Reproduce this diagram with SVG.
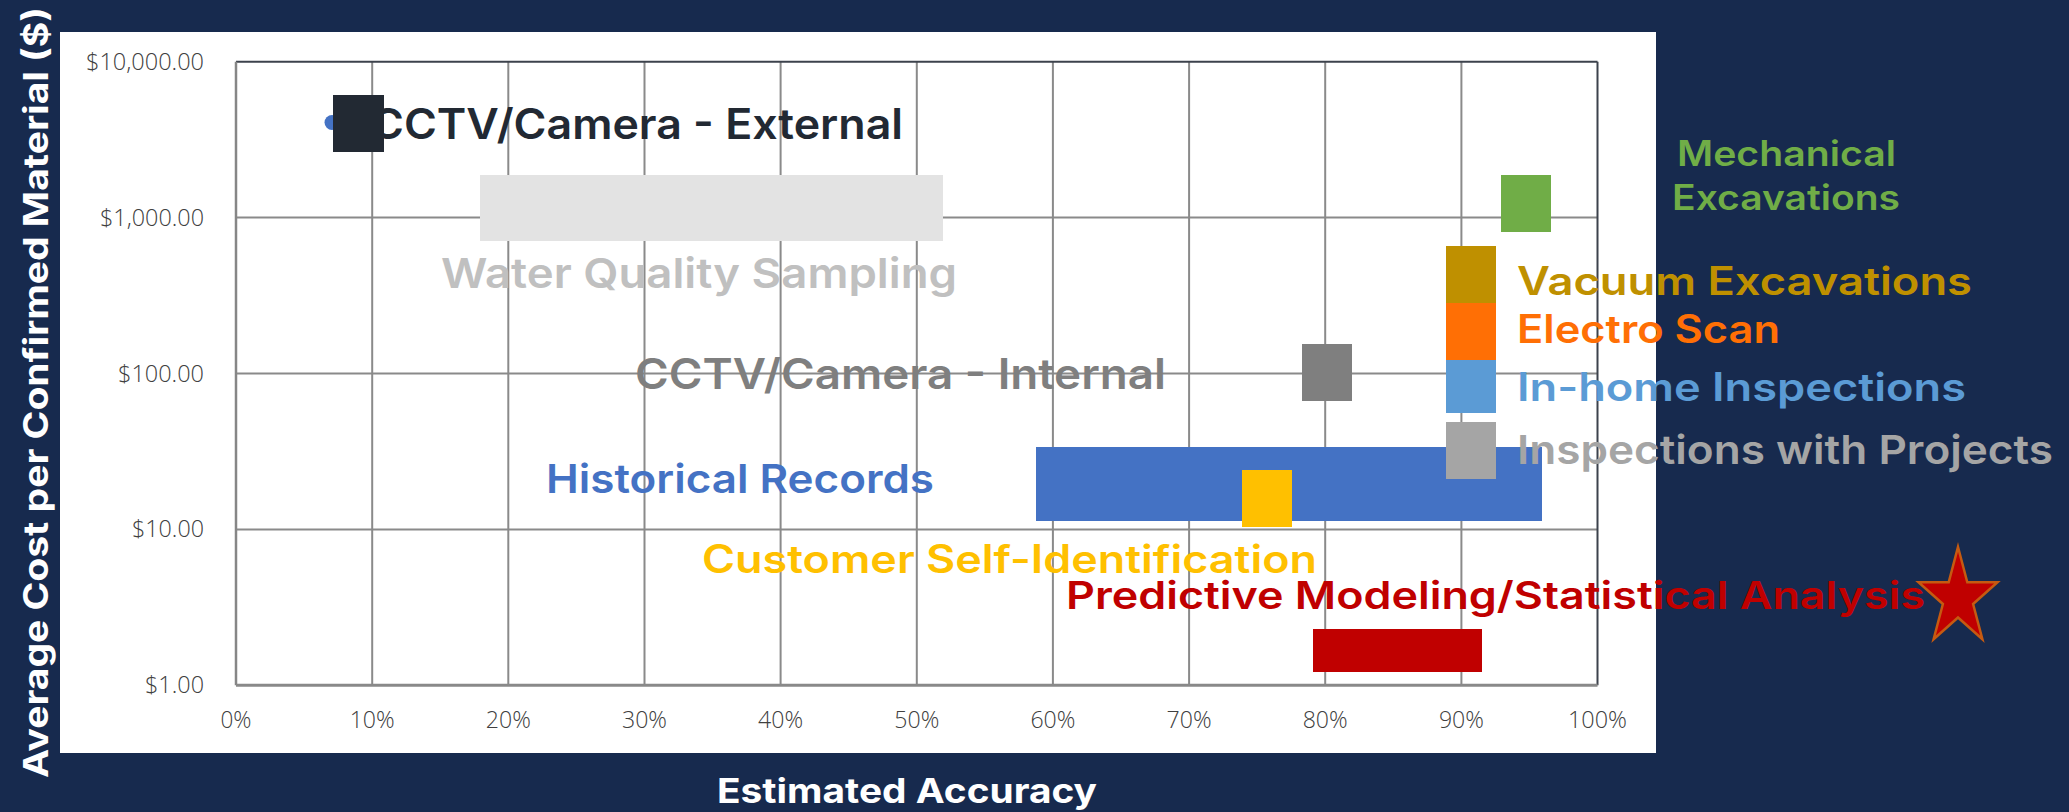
<svg xmlns="http://www.w3.org/2000/svg" width="2069" height="812" viewBox="0 0 2069 812">
<style>
.lbl{font-family:Inter,"Open Sans","DejaVu Sans",sans-serif;font-weight:600}
.tick{font-family:"Open Sans","Liberation Sans",sans-serif;font-weight:300;font-size:24px;fill:#404040}
.ytk{text-anchor:end}
.xtk{text-anchor:middle}
.grid line{stroke:#8a8a8a;stroke-width:2}
.ax{font-family:Inter,"Open Sans",sans-serif;font-weight:700;fill:#ffffff}
</style>
<rect x="0" y="0" width="2069" height="812" fill="#172a4e"/>
<rect x="60" y="32" width="1596" height="721" fill="#ffffff"/>

<g id="gridlines" class="grid">
  <line x1="236" y1="217.6" x2="1597.5" y2="217.6"/>
  <line x1="236" y1="373.5" x2="1597.5" y2="373.5"/>
  <line x1="236" y1="529.4" x2="1597.5" y2="529.4"/>
  <line x1="372.2" y1="61.7" x2="372.2" y2="685.3"/>
  <line x1="508.3" y1="61.7" x2="508.3" y2="685.3"/>
  <line x1="644.5" y1="61.7" x2="644.5" y2="685.3"/>
  <line x1="780.6" y1="61.7" x2="780.6" y2="685.3"/>
  <line x1="916.8" y1="61.7" x2="916.8" y2="685.3"/>
  <line x1="1052.9" y1="61.7" x2="1052.9" y2="685.3"/>
  <line x1="1189.1" y1="61.7" x2="1189.1" y2="685.3"/>
  <line x1="1325.2" y1="61.7" x2="1325.2" y2="685.3"/>
  <line x1="1461.4" y1="61.7" x2="1461.4" y2="685.3"/>
</g>
<g id="axes">
  <line x1="236" y1="61.7" x2="1597.5" y2="61.7" stroke="#3c424c" stroke-width="2"/>
  <line x1="1597.5" y1="61.7" x2="1597.5" y2="685.3" stroke="#3c424c" stroke-width="2"/>
  <line x1="236" y1="61.7" x2="236" y2="685.3" stroke="#868686" stroke-width="2.5"/>
  <line x1="236" y1="685.3" x2="1597.5" y2="685.3" stroke="#898989" stroke-width="3"/>
</g>

<g id="y-ticks" class="tick ytk">
  <text x="204" y="69.7" textLength="118" lengthAdjust="spacingAndGlyphs">$10,000.00</text>
  <text x="204" y="225.6" textLength="104" lengthAdjust="spacingAndGlyphs">$1,000.00</text>
  <text x="204" y="381.5" textLength="86" lengthAdjust="spacingAndGlyphs">$100.00</text>
  <text x="204" y="537.4" textLength="72" lengthAdjust="spacingAndGlyphs">$10.00</text>
  <text x="204" y="693.3" textLength="59" lengthAdjust="spacingAndGlyphs">$1.00</text>
</g>
<g id="x-ticks" class="tick xtk">
  <text x="236" y="728" textLength="31" lengthAdjust="spacingAndGlyphs">0%</text>
  <text x="372.2" y="728" textLength="45" lengthAdjust="spacingAndGlyphs">10%</text>
  <text x="508.3" y="728" textLength="45" lengthAdjust="spacingAndGlyphs">20%</text>
  <text x="644.5" y="728" textLength="45" lengthAdjust="spacingAndGlyphs">30%</text>
  <text x="780.6" y="728" textLength="45" lengthAdjust="spacingAndGlyphs">40%</text>
  <text x="916.8" y="728" textLength="45" lengthAdjust="spacingAndGlyphs">50%</text>
  <text x="1052.9" y="728" textLength="45" lengthAdjust="spacingAndGlyphs">60%</text>
  <text x="1189.1" y="728" textLength="45" lengthAdjust="spacingAndGlyphs">70%</text>
  <text x="1325.2" y="728" textLength="45" lengthAdjust="spacingAndGlyphs">80%</text>
  <text x="1461.4" y="728" textLength="45" lengthAdjust="spacingAndGlyphs">90%</text>
  <text x="1597.5" y="728" textLength="59" lengthAdjust="spacingAndGlyphs">100%</text>
</g>

<g id="axis-titles">
  <text class="ax" x="0" y="0" font-size="34" text-anchor="middle" transform="translate(48,392.5) rotate(-90)" textLength="771" lengthAdjust="spacingAndGlyphs">Average Cost per Confirmed Material ($)</text>
  <text class="ax" x="717" y="803" font-size="34" textLength="380" lengthAdjust="spacingAndGlyphs">Estimated Accuracy</text>
</g>

<g id="node-water-quality">
  <rect x="480" y="175" width="463" height="66" fill="#e3e3e3"/>
  <text class="lbl" x="441" y="288" font-size="41" fill="#c0c0c0" textLength="516" lengthAdjust="spacingAndGlyphs">Water Quality Sampling</text>
</g>
<g id="node-cctv-external">
  <text class="lbl" x="371" y="139" font-size="42" fill="#222933" textLength="532" lengthAdjust="spacingAndGlyphs">CCTV/Camera - External</text>
  <circle cx="332" cy="122.5" r="7.5" fill="#4472c4"/>
  <rect x="333" y="95" width="51" height="57" fill="#222933"/>
</g>
<g id="node-cctv-internal">
  <text class="lbl" x="635" y="389" font-size="42" fill="#7f7f7f" textLength="531" lengthAdjust="spacingAndGlyphs">CCTV/Camera - Internal</text>
  <rect x="1302" y="344" width="50" height="57" fill="#7f7f7f"/>
</g>
<g id="node-historical-records">
  <text class="lbl" x="546" y="493" font-size="40" fill="#4472c4" textLength="388" lengthAdjust="spacingAndGlyphs">Historical Records</text>
  <rect x="1036" y="447" width="506" height="74" fill="#4472c4"/>
</g>
<g id="node-customer-self-id">
  <text class="lbl" x="702" y="573" font-size="39" fill="#ffc000" textLength="615" lengthAdjust="spacingAndGlyphs">Customer Self-Identification</text>
  <rect x="1242" y="470" width="50" height="57" fill="#ffc000"/>
</g>
<g id="node-predictive-modeling">
  <text class="lbl" x="1066" y="609" font-size="38" fill="#c00000" textLength="859" lengthAdjust="spacingAndGlyphs">Predictive Modeling/Statistical Analysis</text>
  <rect x="1313" y="629" width="169" height="43" fill="#c00000"/>
  <polygon points="1958,547 1967.3,582.2 1997.5,582.2 1973.1,604 1982.4,639.3 1958,617.5 1933.6,639.3 1942.9,604 1918.5,582.2 1948.7,582.2" fill="#c00000" stroke="#c55a11" stroke-width="2.5" stroke-linejoin="miter"/>
</g>
<g id="node-mechanical-excavations">
  <rect x="1501" y="175" width="50" height="57" fill="#70ad47"/>
  <text class="lbl" font-size="35" fill="#70ad47"><tspan x="1677" y="165.5" textLength="219" lengthAdjust="spacingAndGlyphs">Mechanical</tspan><tspan x="1672" y="210" textLength="228" lengthAdjust="spacingAndGlyphs">Excavations</tspan></text>
</g>
<g id="node-vacuum-excavations">
  <rect x="1446" y="246" width="50" height="57" fill="#bf9000"/>
  <text class="lbl" x="1517" y="295" font-size="39" fill="#bf9000" textLength="455" lengthAdjust="spacingAndGlyphs">Vacuum Excavations</text>
</g>
<g id="node-electro-scan">
  <rect x="1446" y="303" width="50" height="57" fill="#ff6f05"/>
  <text class="lbl" x="1517" y="343" font-size="39" fill="#ff6f05" textLength="263" lengthAdjust="spacingAndGlyphs">Electro Scan</text>
</g>
<g id="node-in-home-inspections">
  <rect x="1446" y="360" width="50" height="53" fill="#5b9bd5"/>
  <text class="lbl" x="1517" y="400.5" font-size="39" fill="#5b9bd5" textLength="449" lengthAdjust="spacingAndGlyphs">In-home Inspections</text>
</g>
<g id="node-inspections-with-projects">
  <rect x="1446" y="422" width="50" height="57" fill="#a5a5a5"/>
  <text class="lbl" x="1517" y="464" font-size="40" fill="#a5a5a5" textLength="536" lengthAdjust="spacingAndGlyphs">Inspections with Projects</text>
</g>
</svg>
